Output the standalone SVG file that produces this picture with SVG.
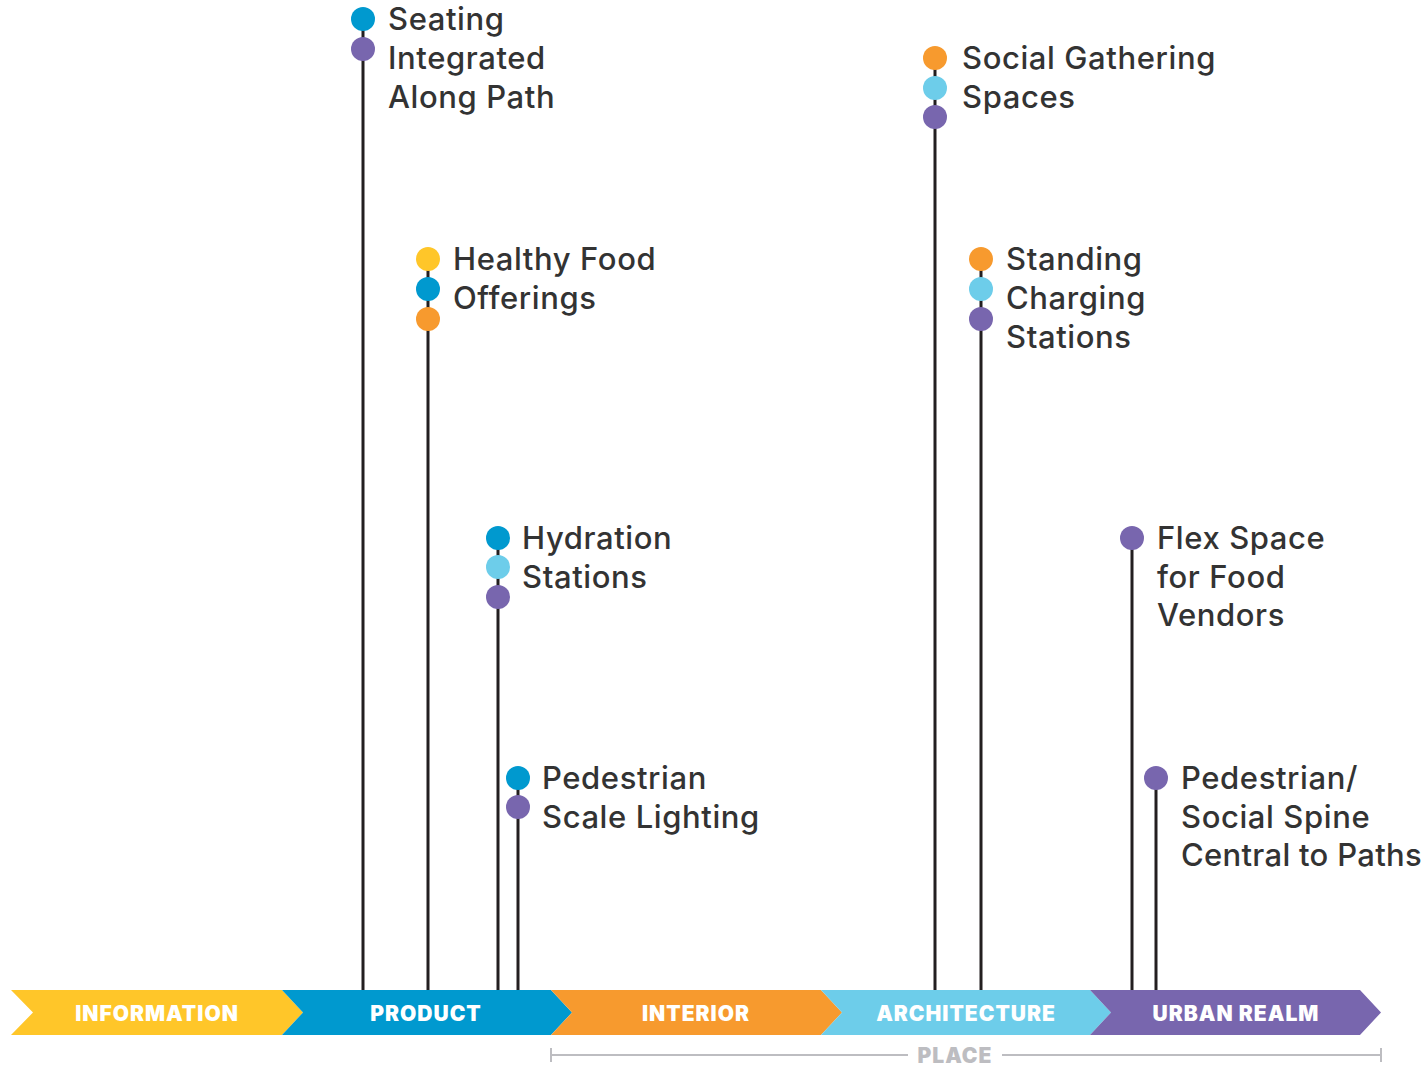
<svg xmlns="http://www.w3.org/2000/svg" width="1424" height="1066" viewBox="0 0 1424 1066">
<style>
.stem{stroke:#231F20;stroke-width:3;fill:none}
.lbl{font-family:Inter,"Liberation Sans",sans-serif;font-size:31px;font-weight:500;letter-spacing:0.6px;fill:#333333}
.cat{font-family:Inter,"Liberation Sans",sans-serif;font-size:21px;font-weight:900;letter-spacing:1px;fill:#ffffff;text-anchor:middle}
.y{fill:#FFC629}.b{fill:#0099CF}.o{fill:#F79A2E}.l{fill:#6DCDEA}.p{fill:#7866AE}
.place{stroke:#BDBDC1;stroke-width:2;fill:none}
</style>
<rect width="1424" height="1066" fill="#ffffff"/>
<g id="connectors">
<line class="stem" x1="363" y1="19" x2="363" y2="990"/>
<line class="stem" x1="428" y1="259" x2="428" y2="990"/>
<line class="stem" x1="498" y1="538" x2="498" y2="990"/>
<line class="stem" x1="518" y1="778" x2="518" y2="990"/>
<line class="stem" x1="935" y1="58" x2="935" y2="990"/>
<line class="stem" x1="981" y1="259" x2="981" y2="990"/>
<line class="stem" x1="1132" y1="538" x2="1132" y2="990"/>
<line class="stem" x1="1156" y1="778" x2="1156" y2="990"/>
</g>
<g id="band">
<g id="cat-information"><polygon class="y" points="11,990 282,990 303,1012.5 282,1035 11,1035 33,1012.5"/><text class="cat" x="157" y="1020.5">INFORMATION</text></g>
<g id="cat-product"><polygon class="b" points="282,990 551,990 572,1012.5 551,1035 282,1035 303,1012.5"/><text class="cat" x="426" y="1020.5">PRODUCT</text></g>
<g id="cat-interior"><polygon class="o" points="551,990 821,990 842,1012.5 821,1035 551,1035 572,1012.5"/><text class="cat" x="696" y="1020.5">INTERIOR</text></g>
<g id="cat-architecture"><polygon class="l" points="821,990 1090,990 1111,1012.5 1090,1035 821,1035 842,1012.5"/><text class="cat" x="966" y="1020.5">ARCHITECTURE</text></g>
<g id="cat-urban"><polygon class="p" points="1090,990 1360,990 1381,1012.5 1360,1035 1090,1035 1111,1012.5"/><text class="cat" x="1236" y="1020.5">URBAN REALM</text></g>
</g>
<g id="place">
<path class="place" d="M551,1048V1062M551,1055H908M1002,1055H1381M1381,1048V1062"/>
<text x="955" y="1063" style="font-family:Inter,'Liberation Sans',sans-serif;font-size:21px;font-weight:900;letter-spacing:1px;fill:#BDBDC1;text-anchor:middle">PLACE</text>
</g>
<g id="node-seating">
<circle class="b" cx="363" cy="19" r="12"/><circle class="p" cx="363" cy="49" r="12"/>
<text class="lbl" x="388" y="30">Seating</text><text class="lbl" x="388" y="69">Integrated</text><text class="lbl" x="388" y="108">Along Path</text>
</g>
<g id="node-healthy-food">
<circle class="y" cx="428" cy="259" r="12"/><circle class="b" cx="428" cy="289" r="12"/><circle class="o" cx="428" cy="319" r="12"/>
<text class="lbl" x="453" y="270">Healthy Food</text><text class="lbl" x="453" y="309">Offerings</text>
</g>
<g id="node-hydration">
<circle class="b" cx="498" cy="538" r="12"/><circle class="l" cx="498" cy="567" r="12"/><circle class="p" cx="498" cy="597" r="12"/>
<text class="lbl" x="522" y="549">Hydration</text><text class="lbl" x="522" y="588">Stations</text>
</g>
<g id="node-ped-lighting">
<circle class="b" cx="518" cy="778" r="12"/><circle class="p" cx="518" cy="807" r="12"/>
<text class="lbl" x="542" y="789">Pedestrian</text><text class="lbl" x="542" y="828">Scale Lighting</text>
</g>
<g id="node-social-gathering">
<circle class="o" cx="935" cy="58" r="12"/><circle class="l" cx="935" cy="88" r="12"/><circle class="p" cx="935" cy="117" r="12"/>
<text class="lbl" x="962" y="69">Social Gathering</text><text class="lbl" x="962" y="108">Spaces</text>
</g>
<g id="node-standing-charging">
<circle class="o" cx="981" cy="259" r="12"/><circle class="l" cx="981" cy="289" r="12"/><circle class="p" cx="981" cy="319" r="12"/>
<text class="lbl" x="1006" y="270">Standing</text><text class="lbl" x="1006" y="309">Charging</text><text class="lbl" x="1006" y="348">Stations</text>
</g>
<g id="node-flex-space">
<circle class="p" cx="1132" cy="538" r="12"/>
<text class="lbl" x="1157" y="549">Flex Space</text><text class="lbl" x="1157" y="588">for Food</text><text class="lbl" x="1157" y="626">Vendors</text>
</g>
<g id="node-social-spine">
<circle class="p" cx="1156" cy="778" r="12"/>
<text class="lbl" x="1181" y="789">Pedestrian/</text><text class="lbl" x="1181" y="828">Social Spine</text><text class="lbl" x="1181" y="866" style="letter-spacing:0.3px">Central to Paths</text>
</g>
</svg>
